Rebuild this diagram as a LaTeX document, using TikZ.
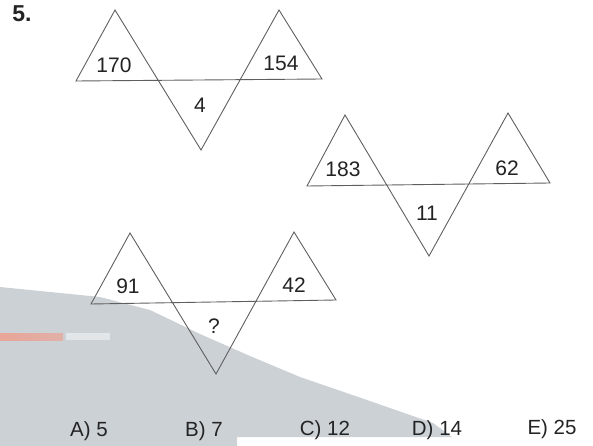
\documentclass[tikz,border=0pt]{standalone}
\usepackage{fontspec}
\setmainfont{Liberation Sans}
\definecolor{scanshadow}{RGB}{204,209,214}
\definecolor{scanstreak}{RGB}{232,165,152}
\definecolor{inkline}{RGB}{95,95,95}
\definecolor{inktext}{RGB}{35,35,35}
\begin{document}
\begin{tikzpicture}[x=1pt,y=-1pt,
  zig/.style={draw=inkline,line width=0.9pt,line join=miter},
  lbl/.style={inktext,font=\fontsize{21}{25}\selectfont,inner sep=0pt},
  ans/.style={inktext,font=\fontsize{20.5}{25}\selectfont,inner sep=0pt,anchor=base}]
  \useasboundingbox (0,0) rectangle (593,446);
  % shadow of the scan
  \fill[scanshadow] (0,287) -- (100,297) -- (150,310) -- (200,334) -- (250,356)
    -- (300,377) -- (367,400) -- (433,423) -- (452,437) -- (237,437)
    -- (237,446) -- (0,446) -- cycle;
  \shade[left color=scanstreak,right color=scanstreak!75!scanshadow] (0,333) rectangle (63,340);
  \fill[white!45!scanshadow] (66,333) rectangle (110,340);
  % number of the task
  \node[inktext,font=\fontsize{23}{26}\selectfont\bfseries,inner sep=0pt] (task) at (22,14) {5.};
  % first figure
  \coordinate (ab) at (76,81);
  \coordinate (at1) at (115,10);
  \coordinate (am) at (201,150);
  \coordinate (at2) at (279,10);
  \coordinate (ae) at (322,79);
  \draw[zig] (ab) -- (at1) -- (am) -- (at2) -- (ae) -- cycle;
  \node[lbl] (al) at (114,65) {170};
  \node[lbl] (ar) at (281,63) {154};
  \node[lbl] (ac) at (200,105) {4};
  % second figure
  \coordinate (bb) at (307,186);
  \coordinate (bt1) at (345,115);
  \coordinate (bm) at (429,256);
  \coordinate (bt2) at (508,113);
  \coordinate (be) at (550,183);
  \draw[zig] (bb) -- (bt1) -- (bm) -- (bt2) -- (be) -- cycle;
  \node[lbl] (bl) at (343,169) {183};
  \node[lbl] (br) at (507,168) {62};
  \node[lbl] (bc) at (427,213) {11};
  % third figure
  \coordinate (cb) at (91,304);
  \coordinate (ct1) at (130,233);
  \coordinate (cm) at (216,374);
  \coordinate (ct2) at (294,232);
  \coordinate (ce) at (336,300);
  \draw[zig] (cb) -- (ct1) -- (cm) -- (ct2) -- (ce) -- cycle;
  \node[lbl] (cl) at (128,286) {91};
  \node[lbl] (cr) at (294,285) {42};
  \node[lbl] (cc) at (214,326) {?};
  % choices
  \node[ans] (choa) at (89,436) {A) 5};
  \node[ans] (chob) at (204,436) {B) 7};
  \node[ans] (choc) at (325,435.5) {C) 12};
  \node[ans] (chod) at (437,435) {D) 14};
  \node[ans] (choe) at (552,434) {E) 25};
\end{tikzpicture}
\end{document}
